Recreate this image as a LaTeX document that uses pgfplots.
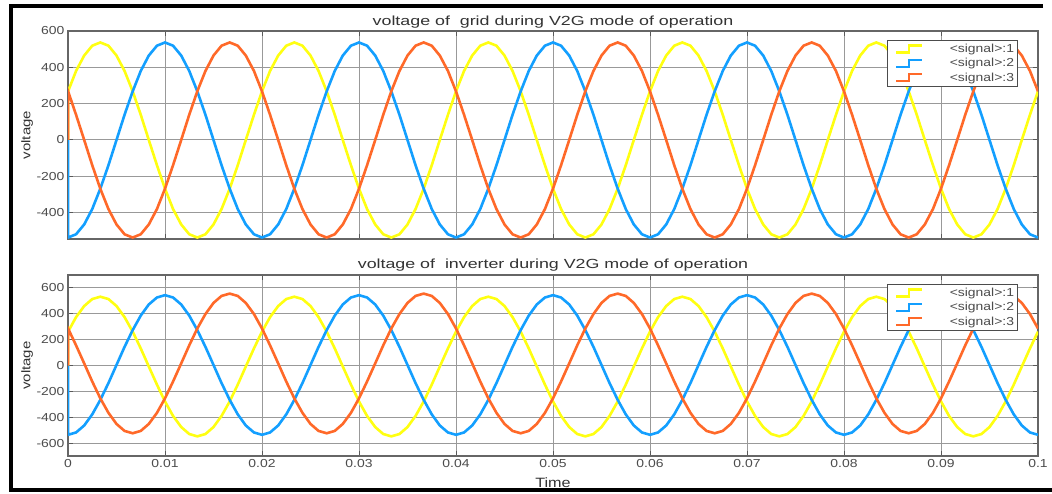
\documentclass[border=0pt]{standalone}
\usepackage{fontspec}
\setmainfont{Liberation Sans}[FakeStretch=1.2]
\newfontfamily\titlefont{Liberation Sans}[FakeStretch=1.35]
\usepackage{pgfplots}
\usepackage{pgfplotstable}
\pgfplotsset{compat=1.18}
\definecolor{sy}{RGB}{255,255,17}
\definecolor{sb}{RGB}{19,159,255}
\definecolor{sr}{RGB}{255,105,41}
\pgfplotstableread{
t ty tb tr by bb br
0 0 0 0 0 0 0
0.00001 268 -537 268 262 -536 286
0.00083 380 -519 139 374 -518 156
0.00167 465 -465 0 460 -464 16
0.0025 519 -380 -139 514 -378 -124
0.00333 537 -268 -268 532 -266 -254
0.00417 519 -139 -380 514 -136 -366
0.005 465 0 -465 460 4 -452
0.00583 380 139 -519 374 144 -506
0.00667 268 268 -537 262 274 -524
0.0075 139 380 -519 132 386 -506
0.00833 0 465 -465 -8 472 -452
0.00917 -139 519 -380 -148 526 -366
0.01 -268 537 -268 -278 544 -254
0.01083 -380 519 -139 -390 526 -124
0.01167 -465 465 0 -476 472 16
0.0125 -519 380 139 -530 386 156
0.01333 -537 268 268 -548 274 286
0.01417 -519 139 380 -530 144 398
0.015 -465 0 465 -476 4 484
0.01583 -380 -139 519 -390 -136 538
0.01667 -268 -268 537 -278 -266 556
0.0175 -139 -380 519 -148 -378 538
0.01833 0 -465 465 -8 -464 484
0.01917 139 -519 380 132 -518 398
0.02 268 -537 268 262 -536 286
0.02083 380 -519 139 374 -518 156
0.02167 465 -465 0 460 -464 16
0.0225 519 -380 -139 514 -378 -124
0.02333 537 -268 -268 532 -266 -254
0.02417 519 -139 -380 514 -136 -366
0.025 465 0 -465 460 4 -452
0.02583 380 139 -519 374 144 -506
0.02667 268 268 -537 262 274 -524
0.0275 139 380 -519 132 386 -506
0.02833 0 465 -465 -8 472 -452
0.02917 -139 519 -380 -148 526 -366
0.03 -268 537 -268 -278 544 -254
0.03083 -380 519 -139 -390 526 -124
0.03167 -465 465 0 -476 472 16
0.0325 -519 380 139 -530 386 156
0.03333 -537 268 268 -548 274 286
0.03417 -519 139 380 -530 144 398
0.035 -465 0 465 -476 4 484
0.03583 -380 -139 519 -390 -136 538
0.03667 -268 -268 537 -278 -266 556
0.0375 -139 -380 519 -148 -378 538
0.03833 0 -465 465 -8 -464 484
0.03917 139 -519 380 132 -518 398
0.04 268 -537 268 262 -536 286
0.04083 380 -519 139 374 -518 156
0.04167 465 -465 0 460 -464 16
0.0425 519 -380 -139 514 -378 -124
0.04333 537 -268 -268 532 -266 -254
0.04417 519 -139 -380 514 -136 -366
0.045 465 0 -465 460 4 -452
0.04583 380 139 -519 374 144 -506
0.04667 268 268 -537 262 274 -524
0.0475 139 380 -519 132 386 -506
0.04833 0 465 -465 -8 472 -452
0.04917 -139 519 -380 -148 526 -366
0.05 -268 537 -268 -278 544 -254
0.05083 -380 519 -139 -390 526 -124
0.05167 -465 465 0 -476 472 16
0.0525 -519 380 139 -530 386 156
0.05333 -537 268 268 -548 274 286
0.05417 -519 139 380 -530 144 398
0.055 -465 0 465 -476 4 484
0.05583 -380 -139 519 -390 -136 538
0.05667 -268 -268 537 -278 -266 556
0.0575 -139 -380 519 -148 -378 538
0.05833 0 -465 465 -8 -464 484
0.05917 139 -519 380 132 -518 398
0.06 268 -537 268 262 -536 286
0.06083 380 -519 139 374 -518 156
0.06167 465 -465 0 460 -464 16
0.0625 519 -380 -139 514 -378 -124
0.06333 537 -268 -268 532 -266 -254
0.06417 519 -139 -380 514 -136 -366
0.065 465 0 -465 460 4 -452
0.06583 380 139 -519 374 144 -506
0.06667 268 268 -537 262 274 -524
0.0675 139 380 -519 132 386 -506
0.06833 0 465 -465 -8 472 -452
0.06917 -139 519 -380 -148 526 -366
0.07 -268 537 -268 -278 544 -254
0.07083 -380 519 -139 -390 526 -124
0.07167 -465 465 0 -476 472 16
0.0725 -519 380 139 -530 386 156
0.07333 -537 268 268 -548 274 286
0.07417 -519 139 380 -530 144 398
0.075 -465 0 465 -476 4 484
0.07583 -380 -139 519 -390 -136 538
0.07667 -268 -268 537 -278 -266 556
0.0775 -139 -380 519 -148 -378 538
0.07833 0 -465 465 -8 -464 484
0.07917 139 -519 380 132 -518 398
0.08 268 -537 268 262 -536 286
0.08083 380 -519 139 374 -518 156
0.08167 465 -465 0 460 -464 16
0.0825 519 -380 -139 514 -378 -124
0.08333 537 -268 -268 532 -266 -254
0.08417 519 -139 -380 514 -136 -366
0.085 465 0 -465 460 4 -452
0.08583 380 139 -519 374 144 -506
0.08667 268 268 -537 262 274 -524
0.0875 139 380 -519 132 386 -506
0.08833 0 465 -465 -8 472 -452
0.08917 -139 519 -380 -148 526 -366
0.09 -268 537 -268 -278 544 -254
0.09083 -380 519 -139 -390 526 -124
0.09167 -465 465 0 -476 472 16
0.0925 -519 380 139 -530 386 156
0.09333 -537 268 268 -548 274 286
0.09417 -519 139 380 -530 144 398
0.095 -465 0 465 -476 4 484
0.09583 -380 -139 519 -390 -136 538
0.09667 -268 -268 537 -278 -266 556
0.0975 -139 -380 519 -148 -378 538
0.09833 0 -465 465 -8 -464 484
0.09917 139 -519 380 132 -518 398
0.1 268 -537 268 262 -536 286
}\data

\newcommand{\sig}[1]{\makebox[89pt][r]{\textless signal\textgreater:#1}}

\pgfplotsset{
  scopeaxis/.style={
    scale only axis, width=970pt, anchor=south west,
    xmin=0, xmax=0.1,
    xtick={0,0.01,0.02,0.03,0.04,0.05,0.06,0.07,0.08,0.09,0.1},
    scaled x ticks=false, scaled y ticks=false,
    xticklabel style={/pgf/number format/fixed,/pgf/number format/precision=2},
    /pgf/number format/assume math mode=true,
    grid=major,
    major grid style={draw=black!40, line width=1pt},
    axis line style={draw=black!60, line width=1.2pt},
    major tick length=5pt,
    tick style={draw=black!65, line width=1pt},
    tick label style={font=\fontsize{11.6}{13}\selectfont, text=black!70},
    title style={font=\titlefont\fontsize{13.2}{15}\selectfont, text=black!80,
      at={(0.5,1)}, anchor=base, yshift=0pt, inner sep=0pt},
    ylabel style={font=\fontsize{12.5}{14}\selectfont, text=black!80,
      at={(axis description cs:-0.042,0.5)}, anchor=center},
    legend style={at={(1,1)}, anchor=north east, xshift=-20pt, yshift=-9pt,
      draw=black!70, line width=1pt, fill=white, inner sep=2.5pt, row sep=2.5pt,
      font=\fontsize{11.6}{13}\selectfont, text=black!70,
      nodes={inner sep=1pt}},
    legend cell align=right,
    legend image code/.code={
      \path[draw=none,fill=none] (0pt,0pt) -- (34pt,0pt);
      \draw[#1, line width=2.4pt] (6pt,-3.5pt) -- (19pt,-3.5pt) -- (19pt,3.5pt) -- (32pt,3.5pt);},
    every axis plot/.append style={line width=2.6pt},
  }
}

\begin{document}
\begin{tikzpicture}
\useasboundingbox (0pt,0pt) rectangle (1052pt,493pt);
\fill[white] (0pt,0pt) rectangle (1052pt,493pt);

\begin{axis}[scopeaxis, at={(68pt,254pt)}, height=208pt,
  ymin=-545, ymax=600, ytick={-400,-200,0,200,400,600},
  xticklabels={},
  title={voltage of\ \ grid during V2G mode of operation},
  ylabel={voltage}]
\addplot[sy] table[x=t,y=ty]{\data};
\addplot[sb] table[x=t,y=tb]{\data};
\addplot[sr] table[x=t,y=tr]{\data};
\legend{\sig{1},\sig{2},\sig{3}}
\end{axis}

\begin{axis}[scopeaxis, at={(68pt,37pt)}, height=181pt,
  ymin=-700, ymax=700, ytick={-600,-400,-200,0,200,400,600},
  title={voltage of\ \ inverter during V2G mode of operation},
  ylabel={voltage},
  xlabel={Time},
  xlabel style={font=\fontsize{13.5}{15}\selectfont, text=black!80,
    at={(axis description cs:0.5,-0.149)}, anchor=center}]
\addplot[sy] table[x=t,y=by]{\data};
\addplot[sb] table[x=t,y=bb]{\data};
\addplot[sr] table[x=t,y=br]{\data};
\legend{\sig{1},\sig{2},\sig{3}}
\end{axis}

\draw[line width=4pt] (1043pt,486.5pt) -- (10.5pt,486.5pt) -- (10.5pt,3pt) -- (1052pt,3pt);
\end{tikzpicture}
\end{document}
